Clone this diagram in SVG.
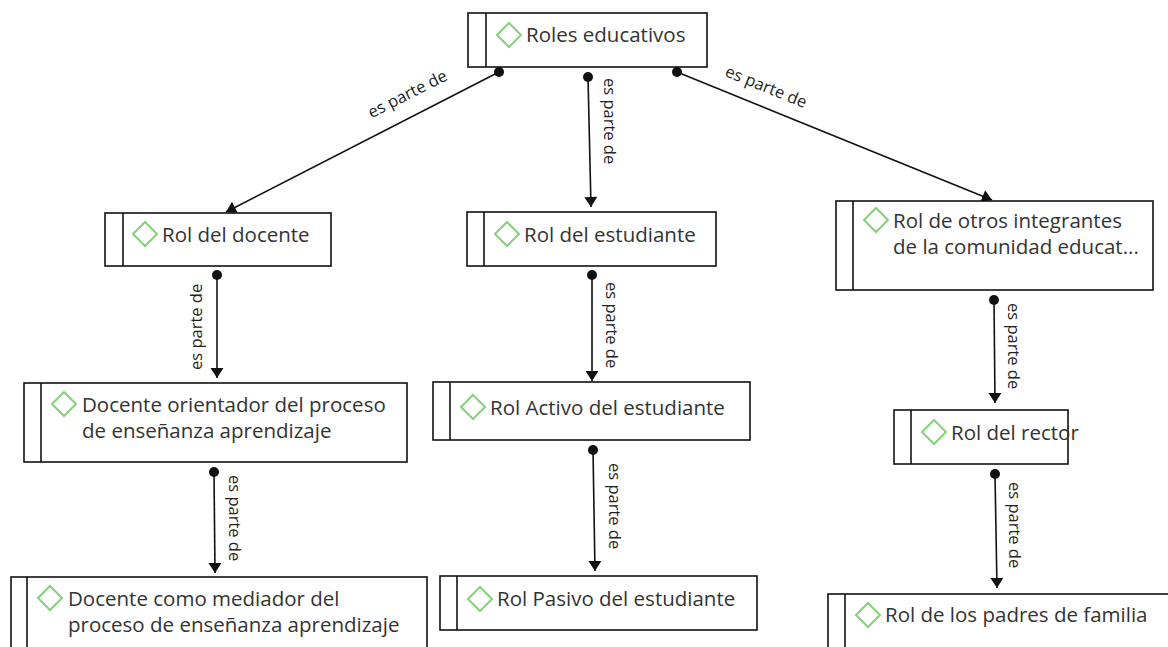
<svg xmlns="http://www.w3.org/2000/svg" width="1168" height="647" viewBox="0 0 1168 647">
<style>
.box{fill:#fff;stroke:#111;stroke-width:1.6}
.bar{stroke:#111;stroke-width:1.6}
.dia{fill:none;stroke:#86cf7c;stroke-width:2}
.t{font-family:"Open Sans","Noto Sans","Liberation Sans",sans-serif;font-size:20.5px;fill:#333}
.lbl{font-family:"Open Sans","Noto Sans","Liberation Sans",sans-serif;font-size:16.5px;fill:#222}
.c{stroke:#111;stroke-width:1.6;fill:none;marker-start:url(#dot);marker-end:url(#arr)}
</style>
<defs>
<marker id="arr" viewBox="-11 -7 12 14" refX="0" refY="0" markerWidth="12" markerHeight="14" orient="auto" markerUnits="userSpaceOnUse"><path d="M-10,-6.5 L0,0 L-10,6.5 z" fill="#111"/></marker>
<marker id="dot" viewBox="-6 -6 12 12" refX="0" refY="0" markerWidth="12" markerHeight="12" markerUnits="userSpaceOnUse"><circle r="5" fill="#111"/></marker>
</defs>
<rect width="1168" height="647" fill="#fff"/>
<g id="connectors">
<line class="c" x1="499" y1="72" x2="226" y2="212"/>
<text class="lbl" text-anchor="middle" transform="translate(410,99) rotate(-27)">es parte de</text>
<line class="c" x1="588" y1="77" x2="591" y2="207"/>
<text class="lbl" transform="translate(604,78) rotate(90)">es parte de</text>
<line class="c" x1="677" y1="72" x2="992" y2="200"/>
<text class="lbl" text-anchor="middle" transform="translate(764,92) rotate(22)">es parte de</text>
<line class="c" x1="217" y1="275" x2="217" y2="378"/>
<text class="lbl" transform="translate(202,370) rotate(-90)">es parte de</text>
<line class="c" x1="592" y1="275" x2="592" y2="381"/>
<text class="lbl" transform="translate(606,282) rotate(90)">es parte de</text>
<line class="c" x1="994" y1="300" x2="995" y2="403"/>
<text class="lbl" transform="translate(1008,303) rotate(90)">es parte de</text>
<line class="c" x1="214" y1="472" x2="215" y2="573"/>
<text class="lbl" transform="translate(229,475) rotate(90)">es parte de</text>
<line class="c" x1="593" y1="450" x2="595" y2="571"/>
<text class="lbl" transform="translate(609,463) rotate(90)">es parte de</text>
<line class="c" x1="995" y1="474" x2="997" y2="588"/>
<text class="lbl" transform="translate(1009,482) rotate(90)">es parte de</text>
</g>
<g id="n-roles">
<rect class="box" x="468" y="13" width="239" height="54"/>
<line class="bar" x1="486" y1="13" x2="486" y2="67"/>
<path class="dia" d="M497,35 L509,23 L521,35 L509,47 Z"/>
<text class="t" x="526" y="42">Roles educativos</text>
</g>
<g id="n-docente">
<rect class="box" x="105" y="213" width="226" height="53"/>
<line class="bar" x1="123" y1="213" x2="123" y2="266"/>
<path class="dia" d="M133,234 L145,222 L157,234 L145,246 Z"/>
<text class="t" x="162" y="242">Rol del docente</text>
</g>
<g id="n-estudiante">
<rect class="box" x="467" y="212" width="249" height="54"/>
<line class="bar" x1="484" y1="212" x2="484" y2="266"/>
<path class="dia" d="M495,234 L507,222 L519,234 L507,246 Z"/>
<text class="t" x="524" y="242">Rol del estudiante</text>
</g>
<g id="n-otros">
<rect class="box" x="836" y="201" width="317" height="89"/>
<line class="bar" x1="853" y1="201" x2="853" y2="290"/>
<path class="dia" d="M864,220 L876,208 L888,220 L876,232 Z"/>
<text class="t" x="893" y="228">Rol de otros integrantes</text>
<text class="t" x="893" y="254">de la comunidad educat...</text>
</g>
<g id="n-orientador">
<rect class="box" x="24" y="383" width="383" height="79"/>
<line class="bar" x1="41" y1="383" x2="41" y2="462"/>
<path class="dia" d="M52,404 L64,392 L76,404 L64,416 Z"/>
<text class="t" x="82" y="412">Docente orientador del proceso</text>
<text class="t" x="82" y="438">de enseñanza aprendizaje</text>
</g>
<g id="n-activo">
<rect class="box" x="433" y="382" width="317" height="58"/>
<line class="bar" x1="450" y1="382" x2="450" y2="440"/>
<path class="dia" d="M461,407 L473,395 L485,407 L473,419 Z"/>
<text class="t" x="490" y="415">Rol Activo del estudiante</text>
</g>
<g id="n-rector">
<rect class="box" x="894" y="410" width="174" height="54"/>
<line class="bar" x1="911" y1="410" x2="911" y2="464"/>
<path class="dia" d="M922,432 L934,420 L946,432 L934,444 Z"/>
<text class="t" x="951" y="440">Rol del rector</text>
</g>
<g id="n-mediador">
<rect class="box" x="11" y="577" width="416" height="80"/>
<line class="bar" x1="27" y1="577" x2="27" y2="657"/>
<path class="dia" d="M38,598 L50,586 L62,598 L50,610 Z"/>
<text class="t" x="68" y="606">Docente como mediador del</text>
<text class="t" x="68" y="632">proceso de enseñanza aprendizaje</text>
</g>
<g id="n-pasivo">
<rect class="box" x="440" y="576" width="317" height="54"/>
<line class="bar" x1="457" y1="576" x2="457" y2="630"/>
<path class="dia" d="M468,599 L480,587 L492,599 L480,611 Z"/>
<text class="t" x="497" y="606">Rol Pasivo del estudiante</text>
</g>
<g id="n-padres">
<rect class="box" x="828" y="594" width="350" height="60"/>
<line class="bar" x1="845" y1="594" x2="845" y2="654"/>
<path class="dia" d="M856,615 L868,603 L880,615 L868,627 Z"/>
<text class="t" x="885" y="622">Rol de los padres de familia</text>
</g>
</svg>
